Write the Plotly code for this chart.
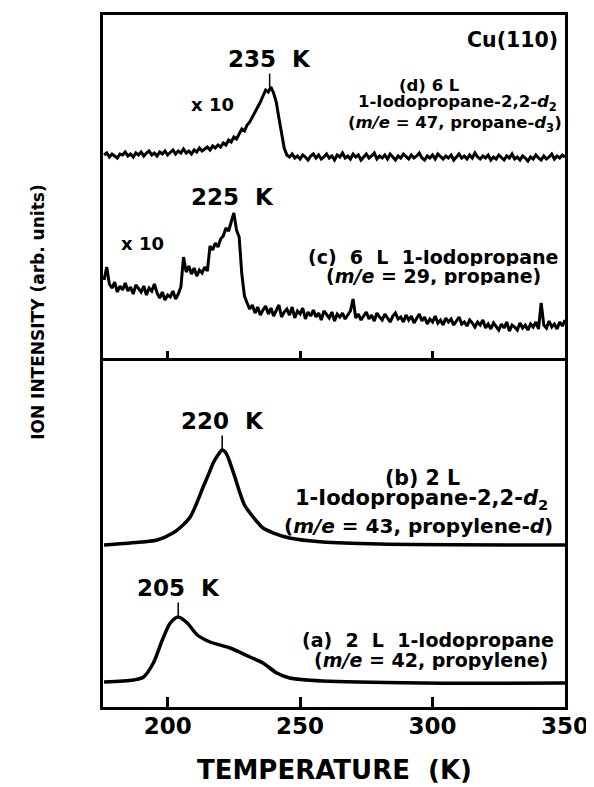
import plotly.graph_objects as go
from plotly.subplots import make_subplots


# ---------------------------------------------------------
# Data (temperature in K, intensity in arbitrary units)
# ---------------------------------------------------------

# noisy traces (c) and (d), top panel, 1 K steps
TEMP_NOISY = [
    176, 177, 178, 179, 180, 181, 182, 183, 184, 185,
    186, 187, 188, 189, 190, 191, 192, 193, 194, 195,
    196, 197, 198, 199, 200, 201, 202, 203, 204, 205,
    206, 207, 208, 209, 210, 211, 212, 213, 214, 215,
    216, 217, 218, 219, 220, 221, 222, 223, 224, 225,
    226, 227, 228, 229, 230, 231, 232, 233, 234, 235,
    236, 237, 238, 239, 240, 241, 242, 243, 244, 245,
    246, 247, 248, 249, 250, 251, 252, 253, 254, 255,
    256, 257, 258, 259, 260, 261, 262, 263, 264, 265,
    266, 267, 268, 269, 270, 271, 272, 273, 274, 275,
    276, 277, 278, 279, 280, 281, 282, 283, 284, 285,
    286, 287, 288, 289, 290, 291, 292, 293, 294, 295,
    296, 297, 298, 299, 300, 301, 302, 303, 304, 305,
    306, 307, 308, 309, 310, 311, 312, 313, 314, 315,
    316, 317, 318, 319, 320, 321, 322, 323, 324, 325,
    326, 327, 328, 329, 330, 331, 332, 333, 334, 335,
    336, 337, 338, 339, 340, 341, 342, 343, 344, 345,
    346, 347, 348, 349, 350,
]

# (d) m/e = 47, propane-d3 (x 10)
PROPANE_D3 = [
    203, 205, 201, 204, 202, 200, 204, 203, 206, 202,
    204, 201, 205, 203, 206, 202, 205, 207, 203, 205,
    202, 206, 204, 207, 203, 206, 208, 204, 207, 205,
    209, 205, 207, 204, 208, 206, 210, 207, 209, 211,
    208, 212, 210, 213, 211, 215, 213, 218, 216, 221,
    219, 224, 229, 227, 233, 236, 241, 245, 251, 256,
    262, 268, 266, 271, 265, 256, 240, 224, 210, 203,
    201, 204, 200, 202, 199, 203, 201, 198, 202, 204,
    200, 203, 199, 201, 204, 200, 202, 198, 203, 201,
    205, 200, 202, 199, 204, 201, 203, 198, 201, 204,
    200, 202, 205, 199, 202, 200, 203, 199, 204, 201,
    198, 202, 200, 204, 201, 199, 203, 200, 202, 205,
    200, 198, 202, 200, 203, 199, 204, 201, 199, 202,
    200, 203, 198, 201, 204, 200, 202, 199, 203, 200,
    205, 201, 199, 202, 200, 203, 198, 201, 199, 203,
    200, 198, 202, 200, 204, 199, 201, 198, 202, 200,
    197, 201, 199, 203, 200, 198, 202, 199, 201, 204,
    199, 202, 200, 203, 201,
]

# (c) m/e = 29, propane (x 10)
PROPANE = [
    78, 91, 74, 70, 76, 66, 72, 68, 75, 67,
    71, 64, 73, 69, 66, 72, 63, 70, 67, 74,
    65, 60, 66, 58, 63, 61, 67, 59, 64, 71,
    101, 86, 92, 84, 90, 82, 88, 85, 91, 87,
    112, 108, 115, 111, 119, 122, 130, 127, 136, 145,
    128, 121, 84, 62, 55, 49, 53, 45, 51, 43,
    48, 52, 44, 50, 42, 47, 53, 41, 46, 49,
    43, 51, 40, 47, 44, 50, 39, 46, 42, 48,
    41, 45, 38, 47, 43, 40, 46, 37, 44, 41,
    45, 39, 43, 47, 59, 40, 44, 38, 42, 46,
    39, 43, 37, 45, 41, 38, 44, 40, 36, 42,
    45, 39, 41, 36, 43, 38, 42, 35, 40, 44,
    37, 41, 34, 39, 36, 42, 35, 38, 33, 40,
    36, 39, 33, 37, 41, 34, 36, 32, 38, 35,
    31, 36, 33, 38, 30, 34, 29, 35, 32, 28,
    34, 30, 36, 27, 33, 31, 28, 35, 30, 33,
    28, 34, 31, 36, 29, 55, 33, 30, 37, 31,
    34, 29, 36, 32, 38,
]

# (b) m/e = 43, propylene-d
TEMP_B = [
    176, 190, 196, 202, 205, 208.5, 211, 213.4, 215.5, 217.2, 219,
    220.6, 222, 223.6, 225.5, 227.3, 229, 231.1, 233.5, 236, 240,
    246, 258.5, 280, 350,
]
PROPYLENE_D = [
    162, 165, 167, 174, 180, 190, 204, 220, 233, 244, 252,
    257, 254, 244, 229, 214, 202, 194, 186, 179, 174,
    169, 165, 163, 162,
]

# (a) m/e = 42, propylene
TEMP_A = [
    176, 187.1, 190.9, 194.6, 198, 201, 204, 207.4, 211.2, 216,
    223.6, 231.1, 236, 241.2, 246.1, 258.5, 296, 350,
]
PROPYLENE = [
    25, 27, 30, 44, 67, 84, 90, 84, 72, 65,
    59, 50, 44, 34, 29, 26, 24, 24,
]

# peak label -> (temperature, intensity, panel)
PEAKS = {
    "235 K": (238.5, 270, 1),
    "220 K": (220.6, 257, 2),
    "205 K": (204, 90, 2),
}

TICK_VALS = [200, 250, 300, 350]
TICK_TEXT = ["200", "250", "300", "350"]

FONT = "DejaVu Sans"


def bold(size):
    return dict(family=FONT, size=size, color="black", weight=700)


# ---------------------------------------------------------
# Figure
# ---------------------------------------------------------

fig = make_subplots(
    rows=2,
    cols=1,
    vertical_spacing=0,
    row_heights=[0.4957, 0.5043],
)

fig.add_trace(
    go.Scatter(
        x=TEMP_NOISY, y=PROPANE_D3, mode="lines",
        line=dict(color="black", width=3),
    ),
    row=1, col=1,
)
fig.add_trace(
    go.Scatter(
        x=TEMP_NOISY, y=PROPANE, mode="lines",
        line=dict(color="black", width=3),
    ),
    row=1, col=1,
)
fig.add_trace(
    go.Scatter(
        x=TEMP_B, y=PROPYLENE_D, mode="lines",
        line=dict(color="black", width=3.5, shape="spline", smoothing=0.8),
    ),
    row=2, col=1,
)
fig.add_trace(
    go.Scatter(
        x=TEMP_A, y=PROPYLENE, mode="lines",
        line=dict(color="black", width=3.5, shape="spline", smoothing=0.8),
    ),
    row=2, col=1,
)

# ---------------------------------------------------------
# Axes
# ---------------------------------------------------------

x_range = [175.6, 350]

# top panel: its bottom line is the divider between the panels
fig.update_xaxes(
    range=x_range,
    showline=True, linewidth=3, linecolor="black", mirror=True,
    showgrid=False, zeroline=False, automargin=False,
    ticks="inside", ticklen=7, tickwidth=2.5, tickcolor="black",
    tickvals=TICK_VALS[:3],
    showticklabels=False,
    row=1, col=1,
)
fig.update_xaxes(
    range=x_range,
    showline=True, linewidth=3, linecolor="black", mirror=False,
    showgrid=False, zeroline=False, automargin=False,
    ticks="inside", ticklen=10, tickwidth=2.5, tickcolor="black",
    tickvals=TICK_VALS, ticktext=TICK_TEXT,
    tickfont=bold(23),
    ticklabelstandoff=-4,
    row=2, col=1,
)
fig.update_layout(
    xaxis3=dict(
        overlaying="x2", anchor="y2", side="top",
        range=x_range, showline=False, showgrid=False, zeroline=False,
        automargin=False,
        ticks="inside", ticklen=6, tickwidth=2.5, tickcolor="black",
        tickvals=TICK_VALS[:3], showticklabels=False,
    ),
)
fig.update_yaxes(
    showline=True, linewidth=3, linecolor="black", mirror=True,
    showgrid=False, zeroline=False, automargin=False,
    ticks="", showticklabels=False,
)
fig.update_yaxes(range=[0, 343], row=1, col=1)
fig.update_yaxes(range=[0, 349], row=2, col=1)

# ---------------------------------------------------------
# Peak labels
# ---------------------------------------------------------

for label, (t, y, panel) in PEAKS.items():
    fig.add_annotation(
        x=t, y=y,
        xref="x" if panel == 1 else "x2",
        yref="y" if panel == 1 else "y2",
        text=label.replace(" ", "  "),
        font=bold(23),
        showarrow=True,
        arrowhead=0, arrowwidth=1.5, arrowcolor="black",
        ax=0, ay=-29,
        standoff=1,
    )

fig.add_annotation(
    x=224.6, y=161, xref="x", yref="y",
    text="225  K", font=bold(23), showarrow=False,
)

# ---------------------------------------------------------
# Curve descriptions
# ---------------------------------------------------------

texts = [
    # (text, x, y, panel, size, anchor, box height)
    ("Cu(110)", 348, 318, 1, 20.5, "right", 24),
    ("x 10", 216.8, 254, 1, 18, "center", 22),
    ("(d) 6 L", 298.8, 273, 1, 16.5, "center", 18),
    ("1-Iodopropane-2,2-<i>d</i><sub>2</sub>", 309.3, 255, 1, 16.5, "center", 18),
    ("(<i>m/e</i> = 47, propane-<i>d</i><sub>3</sub>)", 308.5, 234, 1, 16.5, "center", 20),
    ("x 10", 190.5, 115, 1, 18, "center", 22),
    ("(c)  6  L  1-Iodopropane", 300.3, 102, 1, 19, "center", 19),
    ("(<i>m/e</i> = 29, propane)", 300.3, 83, 1, 19, "center", 19),
    ("(b) 2 L", 296.1, 230, 2, 20.5, "center", 21),
    ("1-Iodopropane-2,2-<i>d</i><sub>2</sub>", 295.7, 208, 2, 21, "center", 23),
    ("(<i>m/e</i> = 43, propylene-<i>d</i>)", 294.6, 182, 2, 20, "center", 25),
    ("(a)  2  L  1-Iodopropane", 298.3, 67, 2, 19, "center", 20),
    ("(<i>m/e</i> = 42, propylene)", 299.5, 47, 2, 19, "center", 20),
]

for text, x, y, panel, size, anchor, box in texts:
    fig.add_annotation(
        x=x, y=y,
        xref="x" if panel == 1 else "x2",
        yref="y" if panel == 1 else "y2",
        text=text, font=bold(size), height=box,
        showarrow=False, xanchor=anchor, yanchor="middle",
    )

fig.add_annotation(
    x=-0.1407, y=0.571, xref="paper", yref="paper",
    text="ION INTENSITY (arb. units)", font=bold(17),
    textangle=-90, showarrow=False, xanchor="center", yanchor="middle",
)

fig.add_annotation(
    x=0.502, y=-0.091, xref="paper", yref="paper",
    text="TEMPERATURE  (K)", font=bold(26),
    showarrow=False, xanchor="center", yanchor="middle",
)

# the page adds an 8 px body margin, so the figure is 8 px smaller
fig.update_layout(
    width=586,
    height=779,
    showlegend=False,
    plot_bgcolor="white",
    paper_bgcolor="white",
    margin=dict(t=7, l=95, r=29, b=80),
)

fig.write_html("out.html")
